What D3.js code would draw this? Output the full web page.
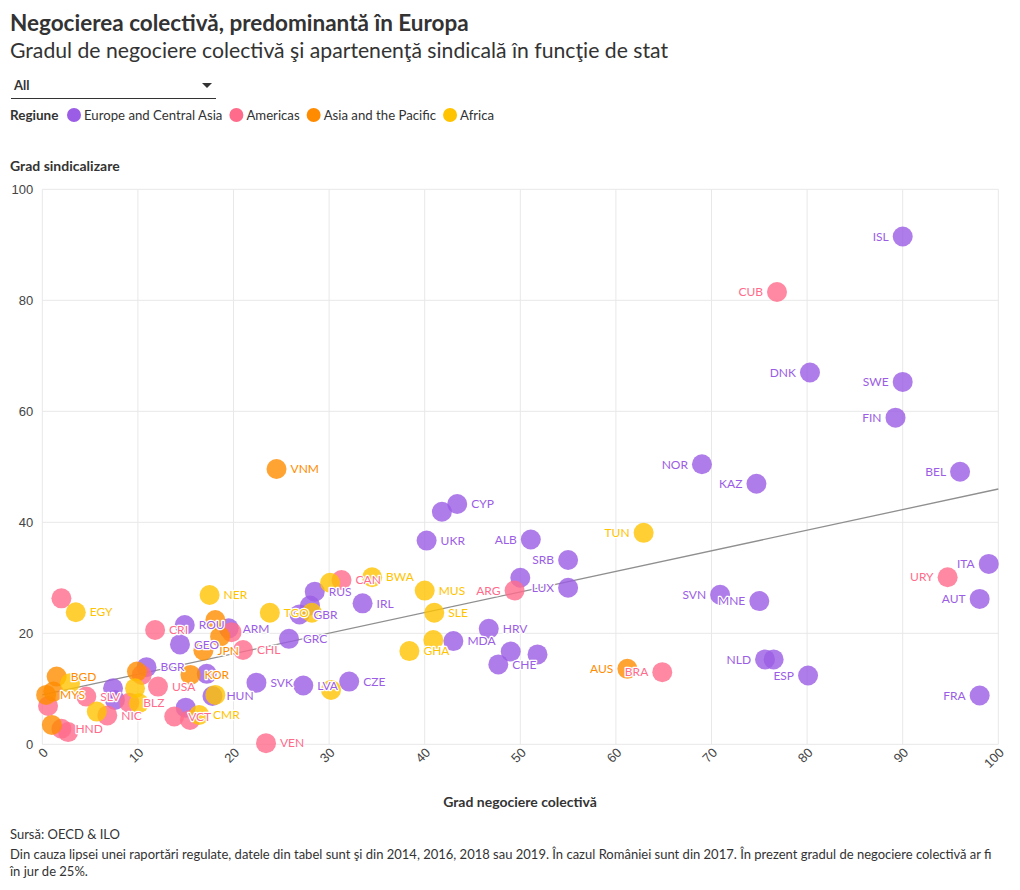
<!DOCTYPE html>
<html>
<head>
<meta charset="utf-8">
<script src="https://cdn.jsdelivr.net/npm/d3@7"></script>
<style>
  html, body { margin: 0; padding: 0; background: #fff; }
  svg { display: block; font-family: "Source Sans Pro", Lato, "Noto Sans", sans-serif; }
</style>
</head>
<body>
<svg id="chart" width="1020" height="890"></svg>
<script>
// ---------- DATA ----------
const regions = ["Europe and Central Asia", "Americas", "Asia and the Pacific", "Africa"];
const regionColors = ["#9b5de5", "#ff6b8b", "#ff8c00", "#ffc300"];

// country codes ("" = point drawn without a label)
const codes = [
  // Europe and Central Asia
  "ISL","DNK","SWE","FIN","NOR","KAZ","BEL","ITA","AUT","SVN","MNE","NLD","","ESP","FRA",
  "ALB","SRB","","LUX","HRV","CHE","","","MDA","CYP","","UKR","IRL","RUS","","GBR","GRC",
  "ARM","SVK","LVA","CZE","HUN","ROU","GEO","BGR","","","","",
  // Americas
  "CUB","URY","BRA","ARG","CAN","CHL","","CRI","USA","","VEN","SLV","NIC","BLZ","VCT","",
  "HND","","","",
  // Asia and the Pacific
  "VNM","AUS","JPN","KOR","","","","BGD","MYS","","",
  // Africa
  "TUN","MUS","SLE","GHA","","BWA","","TGO","","NER","","","CMR","","","","EGY",""
];
// Grad negociere colectivă (x)
const bargaining = [
  90.0, 80.3, 90.0, 89.25, 69.0, 74.7, 96.0, 99.0, 98.05, 70.9, 75.0, 75.6, 76.5, 80.1, 98.05,
  51.1, 55.0, 50.0, 55.0, 46.7, 47.7, 49.0, 51.8, 43.0, 43.4, 41.8, 40.2, 33.5, 28.5, 28.0, 26.9, 25.8,
  19.5, 22.4, 27.3, 32.1, 17.8, 14.9, 14.4, 10.9, 17.2, 7.4, 7.6, 15.0,
  76.85, 94.7, 64.85, 49.4, 31.3, 21.0, 19.8, 11.8, 12.1, 10.4, 23.4, 4.6, 6.8, 9.1, 13.8, 15.45,
  2.0, 2.7, 0.6, 2.0,
  24.5, 61.2, 16.85, 15.5, 18.1, 18.6, 9.9, 1.5, 0.4, 1.15, 1.0,
  62.9, 40.0, 41.0, 38.4, 40.9, 34.5, 30.1, 23.8, 28.2, 17.5, 30.2, 18.1, 16.4, 9.7, 10.1, 5.7, 3.5, 2.9
];
// Grad sindicalizare (y)
const unionRate = [
  91.5, 67.0, 65.3, 58.85, 50.45, 46.95, 49.1, 32.5, 26.2, 26.95, 25.8, 15.3, 15.3, 12.4, 8.8,
  36.9, 33.2, 30.0, 28.2, 20.8, 14.4, 16.7, 16.2, 18.6, 43.3, 41.9, 36.7, 25.4, 27.5, 25.0, 23.4, 19.0,
  20.9, 11.1, 10.6, 11.3, 8.7, 21.5, 18.0, 13.9, 12.7, 10.1, 8.0, 6.6,
  81.5, 30.1, 13.0, 27.7, 29.6, 17.0, 20.2, 20.6, 10.4, 12.5, 0.2, 8.6, 5.2, 7.5, 5.0, 4.4,
  2.8, 2.2, 6.9, 26.3,
  49.6, 13.6, 16.9, 12.5, 22.4, 19.4, 13.1, 12.2, 8.9, 9.5, 3.5,
  38.1, 27.7, 23.7, 16.8, 18.8, 30.1, 29.1, 23.7, 23.7, 26.9, 9.8, 8.9, 5.3, 10.1, 7.4, 5.9, 23.8, 11.0
];
const regionOf = [].concat(
  Array(44).fill(0), Array(20).fill(1), Array(11).fill(2), Array(18).fill(3)
);

// trend line
const trendX = [0, 100];
const trendY = [8.9, 46.0];

const xTicks = [0, 10, 20, 30, 40, 50, 60, 70, 80, 90, 100];
const yTicks = [0, 20, 40, 60, 80, 100];

const title = "Negocierea colectivă, predominantă în Europa";
const subtitle = "Gradul de negociere colectivă şi apartenenţă sindicală în funcţie de stat";
const yTitle = "Grad sindicalizare";
const xTitle = "Grad negociere colectivă";
const footLines = [
  "Sursă: OECD & ILO",
  "Din cauza lipsei unei raportări regulate, datele din tabel sunt şi din 2014, 2016, 2018 sau 2019. În cazul României sunt din 2017. În prezent gradul de negociere colectivă ar fi",
  "în jur de 25%."
];

// ---------- CHART ----------
const svg = d3.select("#chart");
const ink = "#333";

const x = d3.scaleLinear().domain([0, 100]).range([42.3, 998.3]);
const y = d3.scaleLinear().domain([0, 100]).range([744.3, 189.3]);

// titles
svg.append("text").attr("x", 10).attr("y", 31).attr("fill", ink)
  .attr("font-size", 22.5).attr("font-weight", 700).text(title);
svg.append("text").attr("x", 10).attr("y", 58).attr("fill", ink)
  .attr("font-size", 21.2).text(subtitle);

// dropdown
svg.append("text").attr("x", 14).attr("y", 90).attr("fill", ink)
  .attr("font-size", 13).attr("font-weight", 700).text("All");
svg.append("path").attr("d", "M202,83 L212,83 L207,88 Z").attr("fill", ink);
svg.append("line").attr("x1", 11).attr("x2", 216).attr("y1", 98.5).attr("y2", 98.5)
  .attr("stroke", ink).attr("stroke-width", 1);

// legend
const lg = svg.append("g").attr("transform", "translate(10,115)");
lg.append("text").attr("x", 0).attr("y", 5).attr("font-size", 13.5).attr("font-weight", 700)
  .attr("fill", ink).text("Regiune");
let lx = 57;
regions.forEach((r, i) => {
  lg.append("circle").attr("cx", lx + 7).attr("cy", 0).attr("r", 7).attr("fill", regionColors[i]);
  const t = lg.append("text").attr("x", lx + 17).attr("y", 5).attr("font-size", 13.2)
    .attr("fill", ink).text(r);
  lx += 17 + t.node().getComputedTextLength() + 7;
});

// grid
const grid = svg.append("g");
grid.selectAll("line.v").data(xTicks).join("line")
  .attr("x1", d => x(d)).attr("x2", d => x(d)).attr("y1", y(100)).attr("y2", y(0))
  .attr("stroke", "#e8e8e8").attr("stroke-width", 1);
grid.selectAll("line.h").data(yTicks).join("line")
  .attr("x1", x(0)).attr("x2", x(100)).attr("y1", d => y(d)).attr("y2", d => y(d))
  .attr("stroke", "#e8e8e8").attr("stroke-width", 1);

// axes
const yAxis = svg.append("g").attr("transform", `translate(${x(0)},0)`)
  .call(d3.axisLeft(y).tickValues(yTicks).tickSize(0).tickPadding(9));
yAxis.select(".domain").remove();
yAxis.selectAll("text").attr("font-size", 13).attr("fill", "#444").attr("font-family", null);

const xAxis = svg.append("g").attr("transform", `translate(0,${y(0)})`)
  .call(d3.axisBottom(x).tickValues(xTicks).tickSize(0).tickPadding(0));
xAxis.select(".domain").remove();
xAxis.selectAll("text").attr("font-size", 13).attr("fill", "#444").attr("font-family", null)
  .attr("text-anchor", "end").attr("dy", null)
  .attr("transform", "translate(6,9) rotate(-45)");

// axis titles
svg.append("text").attr("x", 10).attr("y", 171).attr("font-size", 14).attr("font-weight", 700)
  .attr("fill", ink).text(yTitle);
svg.append("text").attr("x", 520).attr("y", 807).attr("font-size", 14).attr("font-weight", 700)
  .attr("text-anchor", "middle").attr("fill", ink).text(xTitle);

// trend line
svg.append("path")
  .attr("d", d3.line().x(d => x(d[0])).y(d => y(d[1]))(trendX.map((v, i) => [v, trendY[i]])))
  .attr("stroke", "#8f8f8f").attr("stroke-width", 1.3).attr("fill", "none");

// points
const pts = codes.map((c, i) => ({ code: c, bx: bargaining[i], uy: unionRate[i], r: regionOf[i] }));
svg.append("g").selectAll("circle").data(pts).join("circle")
  .attr("cx", d => x(d.bx)).attr("cy", d => y(d.uy)).attr("r", 10)
  .attr("fill", d => regionColors[d.r]).attr("fill-opacity", 0.8);

// labels
svg.append("g").selectAll("text").data(pts.filter(d => d.code)).join("text")
  .attr("x", d => x(d.bx) + (d.bx > 48.5 ? -14 : 14))
  .attr("y", d => y(d.uy))
  .attr("dy", "0.35em")
  .attr("text-anchor", d => d.bx > 48.5 ? "end" : "start")
  .attr("font-size", 12)
  .attr("fill", d => regionColors[d.r])
  .attr("stroke", "#fff").attr("stroke-width", 2.5).attr("paint-order", "stroke")
  .attr("stroke-linejoin", "round")
  .text(d => d.code);

// footer
footLines.forEach((t, i) => {
  svg.append("text").attr("x", 10).attr("y", [839, 859, 876][i]).attr("font-size", 13)
    .attr("fill", ink).text(t);
});
</script>
</body>
</html>
